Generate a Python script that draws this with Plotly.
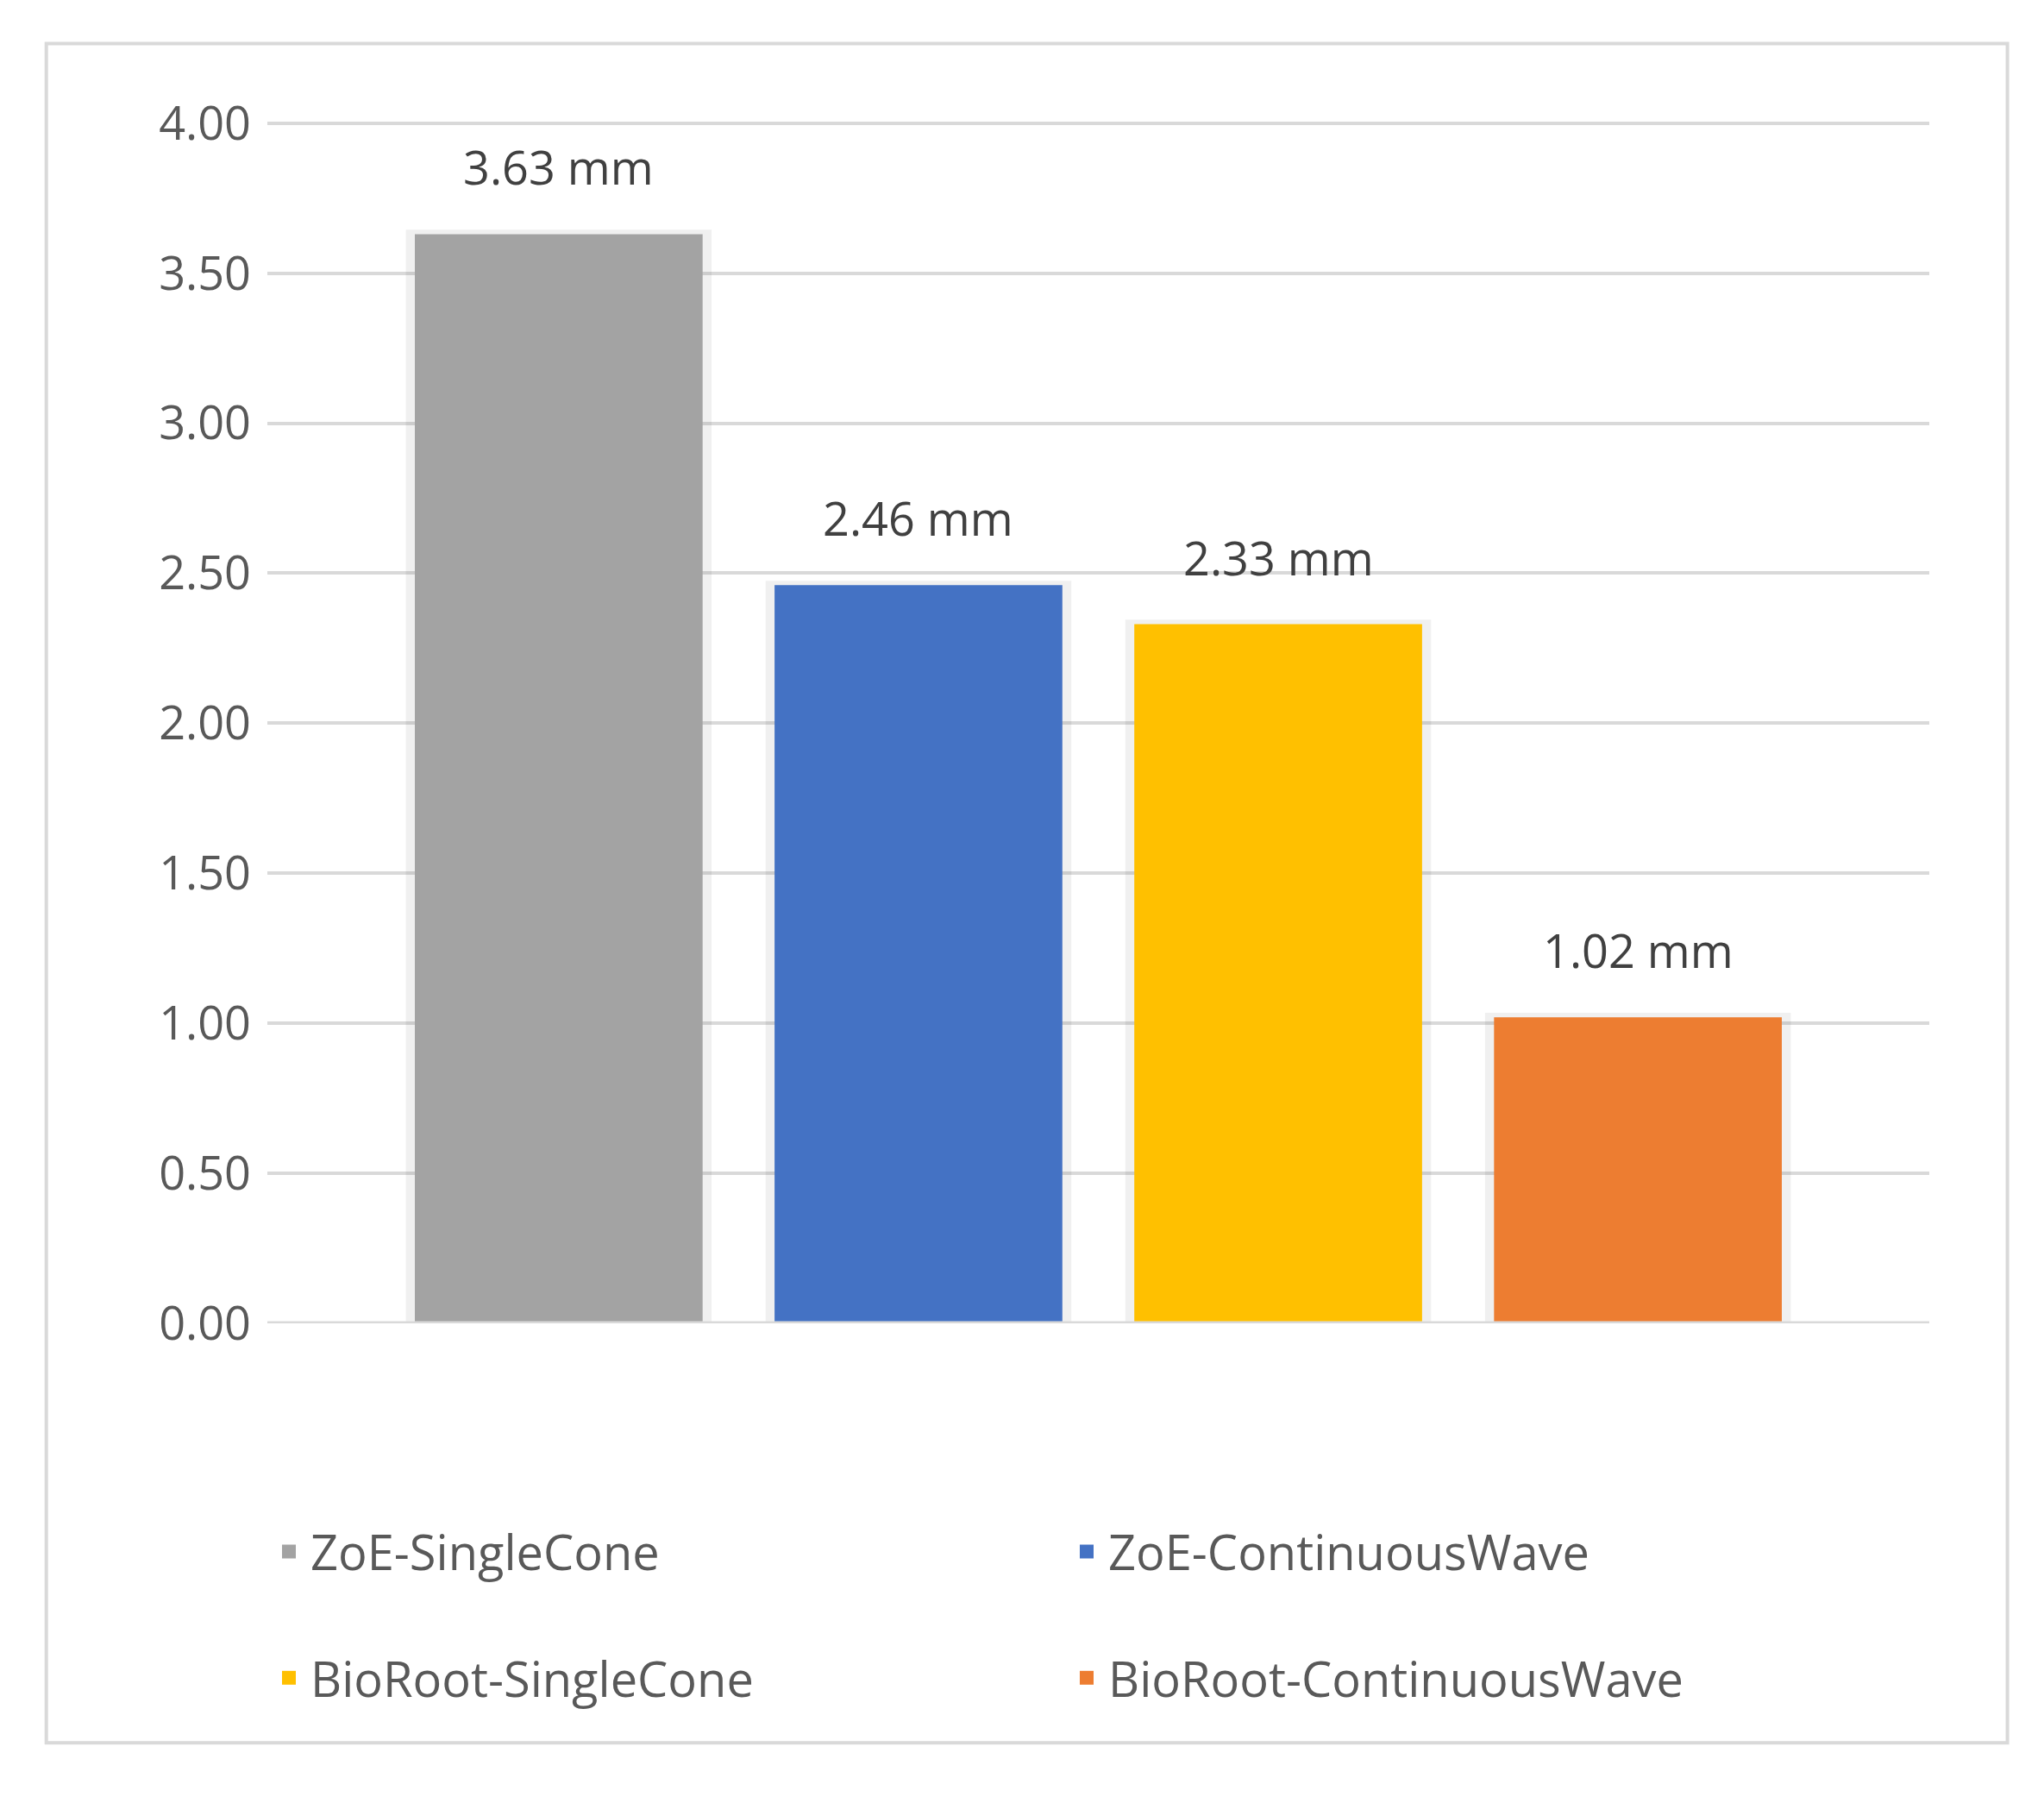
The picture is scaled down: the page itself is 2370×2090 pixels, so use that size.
import plotly.graph_objects as go

categories = ['ZoE-SingleCone', 'ZoE-ContinuousWave', 'BioRoot-SingleCone', 'BioRoot-ContinuousWave']
values = [3.63, 2.46, 2.33, 1.02]
colours = ['#a3a3a3', '#4472c4', '#ffc000', '#ed7d31']
tickvals = [0, 0.5, 1, 1.5, 2, 2.5, 3, 3.5, 4]

fig = go.Figure()

# soft shadow behind each bar
fig.add_trace(go.Bar(x=categories, y=[v + 0.015 for v in values], width=0.85,
                     marker=dict(color='rgba(0,0,0,0.06)', line_width=0),
                     showlegend=False, hoverinfo='skip'))

for i, (cat, val) in enumerate(zip(categories, values)):
    fig.add_trace(go.Bar(x=[cat], y=[val], name=cat, width=0.8,
                         marker=dict(color=colours[i], line_width=0),
                         showlegend=False))
    # legend-only square marker so the key is larger
    fig.add_trace(go.Scatter(x=[None], y=[None], mode='markers', name=cat,
                             marker=dict(symbol='square', size=34, color=colours[i]),
                             legend='legend' if i < 2 else 'legend2'))
    fig.add_annotation(x=cat, y=val, text='{:.2f} mm'.format(val), showarrow=False,
                       yshift=78, font=dict(size=54, color='#404040'))

fig.update_layout(
    width=2370, height=2090,
    barmode='overlay',
    plot_bgcolor='white', paper_bgcolor='white',
    margin=dict(l=302, r=141, t=133, b=564),
    font=dict(family='Open Sans, DejaVu Sans', color='#595959'),
    xaxis=dict(showticklabels=False, showgrid=False, zeroline=False,
               range=[-0.81, 3.81]),
    yaxis=dict(range=[0, 4.005], tickvals=tickvals, tickformat='.2f',
               tickfont=dict(size=54, color='#595959'),
               gridcolor='#d9d9d9', gridwidth=4, zeroline=False,
               showline=False, ticklen=0, ticks='', ticklabelstandoff=18),
    legend=dict(orientation='h', x=0.0, y=-0.19, xanchor='left', yanchor='middle',
                entrywidth=870, entrywidthmode='pixels', itemwidth=40,
                font=dict(size=56, color='#595959')),
    legend2=dict(orientation='h', x=0.0, y=-0.295, xanchor='left', yanchor='middle',
                 entrywidth=870, entrywidthmode='pixels', itemwidth=40,
                 font=dict(size=56, color='#595959')),
)

fig.add_shape(type='rect', xref='paper', yref='paper',
              x0=-0.133, x1=1.047, y0=-0.349, y1=1.065,
              line=dict(color='#d9d9d9', width=4))
# baseline
fig.add_shape(type='line', xref='paper', yref='y', x0=0, x1=1, y0=0, y1=0,
              line=dict(color='#d9d9d9', width=5))

fig.write_html("out.html")
